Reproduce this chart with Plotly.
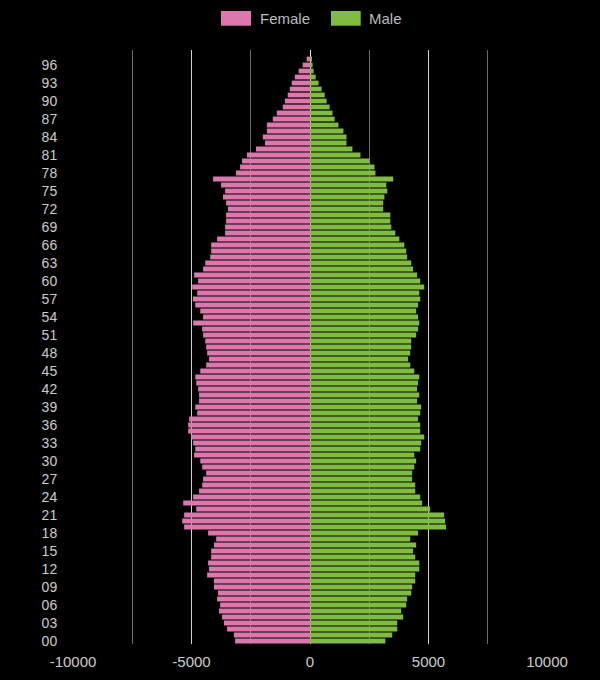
import plotly.graph_objects as go

# Single year of age, 0 to 97
ages = list(range(98))
age_labels = [f"{a:02d}" for a in ages]

# Population counts by age (index 0 = age 0)
female = [3160, 3210, 3500, 3630, 3710, 3840, 3790, 3920, 3880, 4050,
          4050, 4340, 4260, 4300, 4170, 4170, 4050, 3960, 4300, 5310,
          5390, 5310, 4800, 5350, 4930, 4680, 4550, 4510, 4380, 4550,
          4630, 4890, 4840, 4930, 5010, 5140, 5140, 5100, 4760, 4840,
          4680, 4680, 4720, 4800, 4840, 4630, 4380, 4260, 4340, 4380,
          4420, 4510, 4550, 4930, 4510, 4630, 4840, 4940, 4760, 4970,
          4720, 4890, 4510, 4420, 4210, 4170, 4170, 3920, 3580, 3580,
          3540, 3540, 3460, 3540, 3670, 3580, 3750, 4090, 3120, 2950,
          2870, 2660, 2280, 1900, 1990, 1820, 1820, 1570, 1400, 1150,
          1060, 940, 850, 770, 640, 480, 310, 140]

male = [3180, 3470, 3680, 3680, 3930, 3850, 4060, 4100, 4270, 4310,
        4440, 4440, 4610, 4610, 4440, 4350, 4480, 4230, 4560, 5740,
        5700, 5660, 5070, 4730, 4650, 4440, 4440, 4310, 4310, 4400,
        4480, 4400, 4650, 4690, 4820, 4650, 4650, 4560, 4650, 4690,
        4520, 4610, 4520, 4560, 4610, 4400, 4230, 4140, 4230, 4270,
        4270, 4480, 4560, 4610, 4560, 4480, 4560, 4650, 4610, 4820,
        4650, 4520, 4350, 4270, 4100, 4060, 3980, 3770, 3600, 3430,
        3390, 3390, 3090, 3090, 3140, 3260, 3220, 3510, 2760, 2720,
        2510, 2130, 1790, 1540, 1540, 1410, 1200, 1040, 950, 830,
        700, 620, 490, 360, 240, 150, 110, 60]

tick_ages = age_labels[::3]
x_ticks = [-10000, -5000, 0, 5000, 10000]
x_tick_text = ["-10000", "-5000", "0", "5000", "10000"]

pink = "#de77ae"
green = "#7fbc41"
text_grey = "#cccccc"

fig = go.Figure()
fig.add_trace(go.Bar(
    y=age_labels, x=[-v for v in female], orientation="h", name="Female",
    marker=dict(color=pink, line=dict(width=0)),
    customdata=female, hovertemplate="Age %{y}: %{customdata}<extra>Female</extra>",
))
fig.add_trace(go.Bar(
    y=age_labels, x=male, orientation="h", name="Male",
    marker=dict(color=green, line=dict(width=0)),
    hovertemplate="Age %{y}: %{x}<extra>Male</extra>",
))

fig.update_layout(
    width=600, height=680,
    margin=dict(l=73, r=53, t=50, b=36),
    paper_bgcolor="black", plot_bgcolor="black",
    barmode="overlay", bargap=0.2,
    showlegend=False,
    font=dict(family="Liberation Sans, Arial, sans-serif", color=text_grey, size=14),
)

fig.update_xaxes(
    range=[-10000, 10000], automargin=False,
    tickmode="array", tickvals=x_ticks, ticktext=x_tick_text,
    tickfont=dict(size=15, color=text_grey),
    ticks="outside", ticklen=4, tickcolor="rgba(0,0,0,0)",
    showgrid=True, gridcolor="rgba(255,255,255,0.82)", gridwidth=1,
    minor=dict(tickmode="array", tickvals=[-7500, -2500, 2500, 7500],
               showgrid=True, gridcolor="rgba(255,255,255,0.42)", gridwidth=1),
    zeroline=True, zerolinecolor="rgba(255,255,255,0.9)", zerolinewidth=1,
    showline=False, layer="above traces", fixedrange=True,
)
fig.update_yaxes(
    type="category", categoryorder="array", categoryarray=age_labels,
    range=[-0.5, 98.5], automargin=False,
    tickmode="array", tickvals=tick_ages,
    tickfont=dict(size=14, color=text_grey),
    ticks="outside", ticklen=12, tickcolor="rgba(0,0,0,0)",
    showgrid=False, zeroline=False, showline=False, fixedrange=True,
)

# Legend drawn as boxes and labels above the plot
legend_items = [("Female", pink, 0.3122, 0.3755, 0.3896),
                ("Male", green, 0.5443, 0.6070, 0.6203)]
for label, colour, x0, x1, xt in legend_items:
    fig.add_shape(type="rect", xref="paper", yref="paper",
                  x0=x0, x1=x1, y0=1.0409, y1=1.0657,
                  fillcolor=colour, line=dict(width=0))
    fig.add_annotation(text=label, xref="paper", yref="paper",
                       x=xt, y=1.0534, xanchor="left", yanchor="middle",
                       showarrow=False, font=dict(size=15, color="#bbbbbb"))

# page margin off so the chart sits at the window corner
fig.write_html("out.html",
               config={"displayModeBar": False},
               post_script="document.body.style.margin='0';"
                           "document.body.style.background='black';")
